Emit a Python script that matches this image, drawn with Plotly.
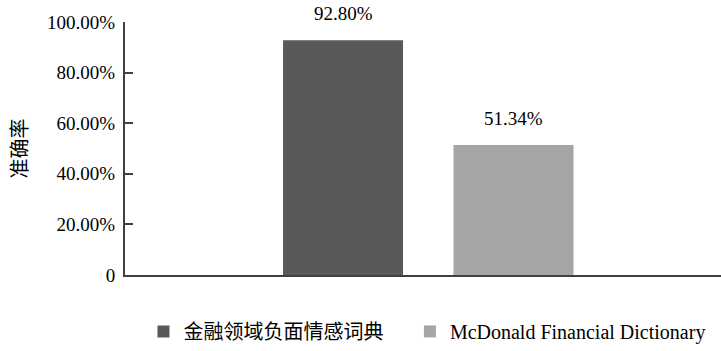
import plotly.graph_objects as go

series_names = ["金融领域负面情感词典", "McDonald Financial Dictionary"]
series_values = [0.9280, 0.5134]
series_colors = ["#595959", "#A5A5A5"]
tick_vals = [0, 0.2, 0.4, 0.6, 0.8, 1.0]
tick_text = ["0", "20.00%", "40.00%", "60.00%", "80.00%", "100.00%"]

FONT = "Liberation Serif, Times New Roman, Noto Sans CJK SC, serif"
legend_ids = ["legend", "legend2"]
legend_x = [0.031, 0.478]

fig = go.Figure()
for i, (name, val, col) in enumerate(zip(series_names, series_values, series_colors)):
    fig.add_trace(go.Bar(
        x=[i], y=[val], name=name, width=0.704,
        marker=dict(color=col, line=dict(width=0)),
        hoverinfo="name+y", legend=legend_ids[i],
    ))
    fig.add_annotation(
        x=i, y=val, xref="x", yref="y", text=f"{val*100:.2f}%",
        showarrow=False, yanchor="middle", yshift=27,
        font=dict(family=FONT, size=19, color="#000000"),
    )

legend_common = dict(orientation="h", xanchor="left", y=-0.223, yanchor="middle",
                     font=dict(family=FONT, size=20), itemwidth=30,
                     bgcolor="rgba(0,0,0,0)")

fig.update_layout(
    width=721, height=351,
    margin=dict(l=125, r=0, t=22, b=73),
    paper_bgcolor="white", plot_bgcolor="white",
    barmode="overlay",
    font=dict(family=FONT, size=19, color="#000000"),
    showlegend=True,
    legend=dict(x=legend_x[0], **legend_common),
    legend2=dict(x=legend_x[1], **legend_common),
    xaxis=dict(showticklabels=False, showgrid=False, zeroline=False,
               showline=True, linecolor="#404040", linewidth=2,
               range=[-1.279, 2.217], ticks=""),
    yaxis=dict(range=[0, 1.0], tickvals=tick_vals, ticktext=tick_text,
               showgrid=False, zeroline=False, showline=True,
               linecolor="#404040", linewidth=2, ticks="inside", ticklen=8,
               tickcolor="#404040", tickwidth=2, ticklabelstandoff=4,
               tickfont=dict(family=FONT, size=19),
               title=dict(text="准确率", font=dict(family=FONT, size=20), standoff=14)),
)
fig.write_html("out.html")
